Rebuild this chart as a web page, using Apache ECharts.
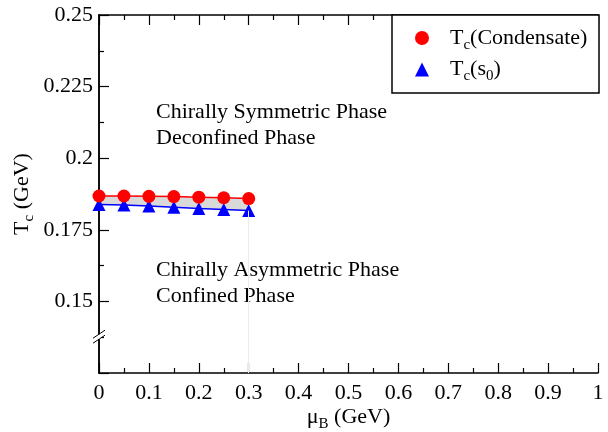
<!DOCTYPE html>
<html>
<head>
<meta charset="utf-8">
<script src="https://cdn.jsdelivr.net/npm/echarts@6/dist/echarts.min.js"></script>
<style>
  html, body { margin: 0; padding: 0; background: #fff; }
  #chart { width: 608px; height: 432px; }
</style>
</head>
<body>
<div id="chart"></div>
<script>
// chemical potential mu_B (GeV)
const muB = [0, 0.05, 0.1, 0.15, 0.2, 0.25, 0.3]
// Tc from condensate (red circles) and from s0 (blue triangles)
const tcCondensate = [0.1868, 0.1868, 0.1867, 0.1866, 0.1864, 0.1862, 0.1859]
const tcS0 = [0.1838, 0.1837, 0.1833, 0.1829, 0.1824, 0.1821, 0.1817]
const yTickLabels = [0.15, 0.175, 0.2, 0.225, 0.25]

const FONT = 'Liberation Serif'
const rich = {
  m: { fontFamily: FONT, fontSize: 22, color: '#000' },
  s: { fontFamily: FONT, fontSize: 15, color: '#000', padding: [14, 0, 0, 0] },
}

const chart = echarts.init(document.getElementById('chart'))

const xBase = {
  type: 'value', min: 0, max: 1, interval: 0.1,
  axisLine: { show: true, lineStyle: { color: '#000', width: 1.5 } },
  axisTick: { show: true, inside: true, length: 10, lineStyle: { color: '#000', width: 1.2 } },
  minorTick: { show: true, splitNumber: 2, length: 5, lineStyle: { color: '#000', width: 1.2 } },
  splitLine: { show: false },
}

chart.setOption({
  animation: false,
  textStyle: { fontFamily: FONT },
  grid: { left: 99, right: 10, top: 15, bottom: 59, outerBoundsMode: 'none' },
  xAxis: [
    {
      ...xBase,
      position: 'bottom',
      axisLabel: {
        fontFamily: FONT, fontSize: 22, color: '#000', margin: 9,
        formatter: (v) => String(parseFloat(v.toFixed(2))),
      },
      name: '{m|μ}{s|B}{m| (GeV)}',
      nameLocation: 'middle',
      nameGap: 30,
      nameMoveOverlap: false,
      nameTextStyle: { fontFamily: FONT, rich, verticalAlign: 'top' },
    },
    { ...xBase, position: 'top', axisLabel: { show: false } },
  ],
  yAxis: [
    {
      type: 'value', min: 0.125, max: 0.25, interval: 0.025,
      axisLine: { show: true, lineStyle: { color: '#000', width: 1.5 } },
      axisTick: { show: true, inside: true, length: 10, lineStyle: { color: '#000', width: 1.2 } },
      minorTick: { show: true, splitNumber: 2, length: 5, lineStyle: { color: '#000', width: 1.2 } },
      splitLine: { show: false },
      axisLabel: {
        fontFamily: FONT, fontSize: 22, color: '#000', margin: 6,
        formatter: (v) => {
          const r = parseFloat(v.toFixed(3))
          return yTickLabels.includes(r) ? String(r) : ''
        },
      },
      name: '{m|T}{s|c}{m| (GeV)}',
      nameLocation: 'middle',
      nameGap: 62,
      nameMoveOverlap: false,
      nameRotate: 90,
      nameTextStyle: { fontFamily: FONT, rich },
    },
    {
      type: 'value', min: 0.125, max: 0.25, position: 'right',
      axisLine: { show: true, lineStyle: { color: '#000', width: 1.5 } },
      axisTick: { show: false }, axisLabel: { show: false }, splitLine: { show: false },
    },
  ],
  legend: {
    orient: 'vertical',
    left: 410,
    top: 22,
    itemWidth: 14,
    itemHeight: 14,
    itemGap: 6,
    data: [
      { name: 'Tc(Condensate)', icon: 'circle' },
      { name: 'Tc(s0)', icon: 'triangle' },
    ],
    formatter: (n) => n === 'Tc(s0)'
      ? '{m|T}{s|c}{m|(s}{s|0}{m|)}'
      : '{m|T}{s|c}{m|(Condensate)}',
    textStyle: { fontFamily: FONT, rich, padding: [0, 0, 0, 16] },
  },
  graphic: [
    {
      id: 'legendBox', type: 'rect', z: 3,
      shape: { x: 392, y: 15, width: 207, height: 78 },
      style: { fill: '#fff', stroke: '#000', lineWidth: 1.5 },
    },
    {
      id: 'noteTop', type: 'text', x: 156, y: 99, z: 5,
      style: {
        text: 'Chirally Symmetric Phase\nDeconfined Phase',
        font: '22px "Liberation Serif"', fill: '#000', lineHeight: 26, verticalAlign: 'top',
      },
    },
    {
      id: 'noteBottom', type: 'text', x: 156, y: 257, z: 5,
      style: {
        text: 'Chirally Asymmetric Phase\nConfined Phase',
        font: '22px "Liberation Serif"', fill: '#000', lineHeight: 26, verticalAlign: 'top',
      },
    },
  ],
  series: [
    {
      // grey band between the two curves
      type: 'custom',
      silent: true,
      z: 1,
      data: [0],
      renderItem: (params, api) => {
        const pts = muB.map((x, i) => api.coord([x, tcCondensate[i]]))
          .concat(muB.slice().reverse().map((x, i) => api.coord([x, tcS0[muB.length - 1 - i]])))
        return { type: 'polygon', shape: { points: pts }, style: { fill: '#d9d9d9' } }
      },
    },
    {
      name: 'Tc(Condensate)',
      type: 'line',
      data: muB.map((x, i) => [x, tcCondensate[i]]),
      symbol: 'circle',
      symbolSize: 13,
      itemStyle: { color: '#ff0000' },
      lineStyle: { color: '#ff0000', width: 1.5 },
      z: 4,
    },
    {
      name: 'Tc(s0)',
      type: 'line',
      data: muB.map((x, i) => [x, tcS0[i]]),
      symbol: 'triangle',
      symbolSize: 13,
      itemStyle: { color: '#0000ff' },
      lineStyle: { color: '#0000ff', width: 1.5 },
      z: 3,
      markLine: {
        silent: true, symbol: 'none', label: { show: false },
        lineStyle: { color: '#ececec', width: 1, type: 'solid' },
        data: [[
          { coord: [muB[muB.length - 1], 0.125] },
          { coord: [muB[muB.length - 1], tcS0[tcS0.length - 1]] },
        ]],
      },
    },
  ],
})

// axis break mark on the left axis
const bp = chart.convertToPixel({ xAxisIndex: 0, yAxisIndex: 0 }, [0, 0.1375])
chart.setOption({
  graphic: [
    {
      id: 'breakGap', type: 'rect', z: 6,
      shape: { x: bp[0] - 2, y: bp[1] - 3, width: 4, height: 5 },
      style: { fill: '#fff' },
    },
    {
      id: 'breakA', type: 'line', z: 7,
      shape: { x1: bp[0] - 6, y1: bp[1] + 1, x2: bp[0] + 6, y2: bp[1] - 7 },
      style: { stroke: '#000', lineWidth: 1 },
    },
    {
      id: 'breakB', type: 'line', z: 7,
      shape: { x1: bp[0] - 6, y1: bp[1] + 6, x2: bp[0] + 6, y2: bp[1] - 2 },
      style: { stroke: '#000', lineWidth: 1 },
    },
  ],
})
</script>
</body>
</html>
